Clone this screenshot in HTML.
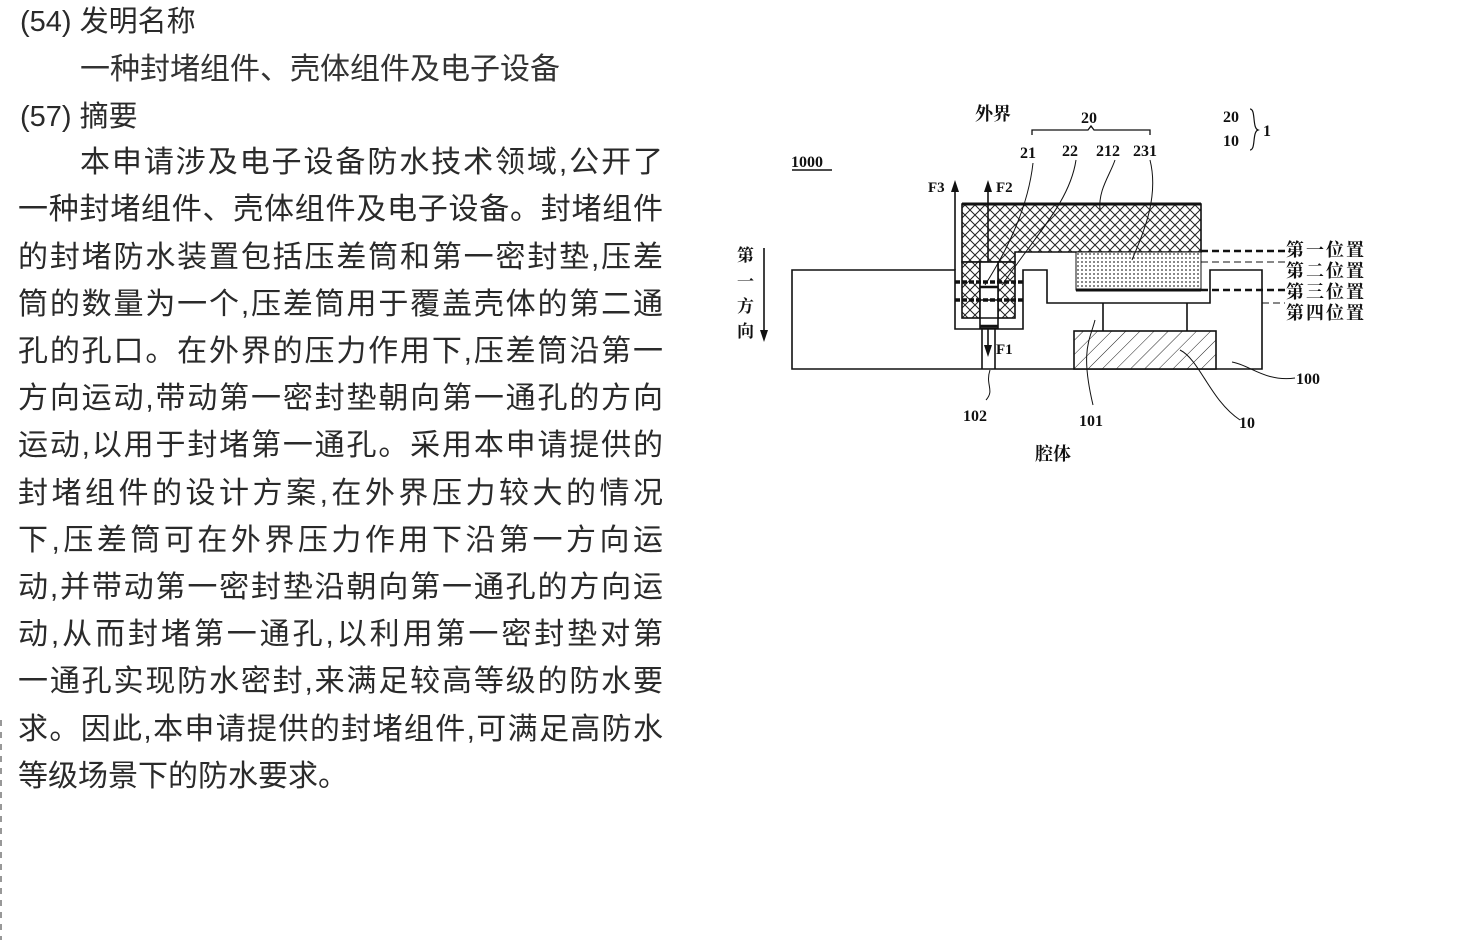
<!DOCTYPE html>
<html><head><meta charset="utf-8"><style>
html,body{margin:0;padding:0;background:#fff;}
body{width:1464px;height:940px;position:relative;overflow:hidden;font-family:"Liberation Sans","Noto Sans CJK SC",sans-serif;color:#2a2a2a;}
.l{position:absolute;left:18px;width:645px;font-size:30px;line-height:34px;height:34px;white-space:nowrap;text-align:justify;text-align-last:justify;}
.h{position:absolute;font-size:29px;line-height:34px;white-space:nowrap;}
svg{position:absolute;left:0;top:0;}
</style></head><body>
<div class="h" style="left:20px;top:5px;">(54) 发明名称</div>
<div class="h" style="left:80px;top:53px;font-size:30px;color:#333;">一种封堵组件、壳体组件及电子设备</div>
<div class="h" style="left:20px;top:100px;">(57) 摘要</div>
<div class="l" style="top:146px;left:80px;width:583px;">本申请涉及电子设备防水技术领域,公开了</div>
<div class="l" style="top:193px;">一种封堵组件、壳体组件及电子设备。封堵组件</div>
<div class="l" style="top:241px;">的封堵防水装置包括压差筒和第一密封垫,压差</div>
<div class="l" style="top:288px;">筒的数量为一个,压差筒用于覆盖壳体的第二通</div>
<div class="l" style="top:335px;">孔的孔口。在外界的压力作用下,压差筒沿第一</div>
<div class="l" style="top:382px;">方向运动,带动第一密封垫朝向第一通孔的方向</div>
<div class="l" style="top:429px;">运动,以用于封堵第一通孔。采用本申请提供的</div>
<div class="l" style="top:477px;">封堵组件的设计方案,在外界压力较大的情况</div>
<div class="l" style="top:524px;">下,压差筒可在外界压力作用下沿第一方向运</div>
<div class="l" style="top:571px;">动,并带动第一密封垫沿朝向第一通孔的方向运</div>
<div class="l" style="top:618px;">动,从而封堵第一通孔,以利用第一密封垫对第</div>
<div class="l" style="top:665px;">一通孔实现防水密封,来满足较高等级的防水要</div>
<div class="l" style="top:713px;">求。因此,本申请提供的封堵组件,可满足高防水</div>
<div class="l" style="top:760px;text-align-last:left;width:auto;">等级场景下的防水要求。</div>

<svg width="1464" height="940" viewBox="0 0 1464 940" font-family="Liberation Serif,Noto Serif CJK SC,serif" font-weight="bold" font-size="16">
<defs>
<pattern id="cross" width="10" height="10" patternUnits="userSpaceOnUse">
<rect width="10" height="10" fill="#fff"/>
<path d="M0 0L10 10M10 0L0 10" stroke="#222" stroke-width="1"/>
</pattern>
<pattern id="dots" width="4" height="4" patternUnits="userSpaceOnUse">
<rect width="4" height="4" fill="#fff"/><circle cx="2" cy="2" r="0.9" fill="#333"/>
</pattern>
<pattern id="hatch" width="10" height="10" patternUnits="userSpaceOnUse" patternTransform="rotate(45)">
<rect width="10" height="10" fill="#fff"/><line x1="0" y1="0" x2="0" y2="10" stroke="#222" stroke-width="1"/>
</pattern>
</defs>
<line x1="1" y1="720" x2="1" y2="940" stroke="#777" stroke-width="1.5" stroke-dasharray="6 6"/>
<g stroke="#111" stroke-width="1.6" fill="none">
<path d="M955 270H792V369H1262V270H1210V303H1047V270H1023V329H955Z" fill="#fff"/>
<path d="M962 204H1201V252H1015V262H962Z" fill="url(#cross)"/>
<line x1="962" y1="204" x2="1201" y2="204" stroke-width="3"/>
<rect x="962" y="262" width="18" height="56" fill="url(#cross)"/>
<rect x="998" y="262" width="17" height="56" fill="url(#cross)"/>
<rect x="980" y="262" width="18" height="66" fill="#fff"/>
<line x1="980" y1="287" x2="998" y2="287" stroke-width="2.5"/>
<line x1="980" y1="300" x2="998" y2="300"/>
<line x1="980" y1="318" x2="998" y2="318"/>
<line x1="980" y1="326" x2="998" y2="326" stroke-width="2.5"/>
<line x1="982" y1="329" x2="982" y2="369"/><line x1="995" y1="329" x2="995" y2="369"/>
<line x1="955" y1="282" x2="1023" y2="282" stroke-width="3.5" stroke-dasharray="5 2"/>
<line x1="955" y1="300" x2="1023" y2="300" stroke-width="3.5" stroke-dasharray="5 2"/>
<rect x="1076" y="252" width="125" height="38" fill="url(#dots)" stroke-width="1"/>
<line x1="1076" y1="290" x2="1201" y2="290" stroke-width="3"/>
<line x1="1103" y1="303" x2="1103" y2="331"/><line x1="1187" y1="303" x2="1187" y2="331"/>
<rect x="1074" y="331" width="142" height="38" fill="url(#hatch)"/>
<line x1="1201" y1="251" x2="1285" y2="251" stroke-width="2.5" stroke-dasharray="7 4"/>
<line x1="1201" y1="262" x2="1285" y2="262" stroke-width="1" stroke-dasharray="7 4"/>
<line x1="1201" y1="290" x2="1285" y2="290" stroke-width="2.5" stroke-dasharray="7 4"/>
<line x1="1262" y1="303" x2="1285" y2="303" stroke-width="1" stroke-dasharray="7 4"/>
<line x1="955" y1="270" x2="955" y2="190"/>
<line x1="988" y1="262" x2="988" y2="190"/>
<line x1="988" y1="328" x2="988" y2="350"/>
<line x1="764" y1="248" x2="764" y2="332"/>
<path d="M1032 135 V130 H1088 L1091 126 L1094 130 H1150 V135" stroke-width="1.3"/>
<path d="M1033 163 C1030 190 1020 230 985 285" stroke-width="1"/>
<path d="M1076 160 C1070 200 1040 230 1002 285" stroke-width="1"/>
<path d="M1115 160 C1110 175 1098 190 1100 210" stroke-width="1"/>
<path d="M1150 160 C1160 200 1140 240 1132 260" stroke-width="1"/>
<path d="M990 370 C985 385 995 390 986 400" stroke-width="1"/>
<path d="M1095 320 C1090 340 1080 350 1093 405" stroke-width="1"/>
<path d="M1180 350 C1200 360 1210 400 1240 420" stroke-width="1"/>
<path d="M1232 362 C1250 365 1265 382 1295 378" stroke-width="1"/>
<path d="M1250 109 C1256 109 1252 128 1258 130 C1252 132 1256 150 1250 150" stroke-width="1.2"/>
<line x1="792" y1="170" x2="832" y2="170" stroke-width="1.5"/>
</g>
<g fill="#111">
<polygon points="951,192 959,192 955,180"/>
<polygon points="984,192 992,192 988,180"/>
<polygon points="984,345 992,345 988,357"/>
<polygon points="760,330 768,330 764,342"/>
</g>
<g fill="#111">
<text x="975" y="120" font-size="18">外界</text>
<text x="1081" y="123">20</text>
<text x="1020" y="158">21</text>
<text x="1062" y="156">22</text>
<text x="1096" y="156">212</text>
<text x="1133" y="156">231</text>
<text x="791" y="167">1000</text>
<text x="1223" y="122">20</text>
<text x="1223" y="146">10</text>
<text x="1263" y="136">1</text>
<text x="928" y="192" font-size="15">F3</text>
<text x="996" y="192" font-size="15">F2</text>
<text x="996" y="354" font-size="15">F1</text>
<text x="963" y="421">102</text>
<text x="1079" y="426">101</text>
<text x="1239" y="428">10</text>
<text x="1296" y="384">100</text>
<text x="1035" y="460" font-size="18">腔体</text>
<text x="1286" y="256" font-size="18" textLength="78">第一位置</text>
<text x="1286" y="277" font-size="18" textLength="78">第二位置</text>
<text x="1286" y="298" font-size="18" textLength="78">第三位置</text>
<text x="1286" y="319" font-size="18" textLength="78">第四位置</text>
<text x="737" y="261" font-size="17">第</text>
<text x="737" y="287" font-size="17">一</text>
<text x="737" y="312" font-size="17">方</text>
<text x="737" y="337" font-size="17">向</text>
</g>
</svg>
</body></html>
